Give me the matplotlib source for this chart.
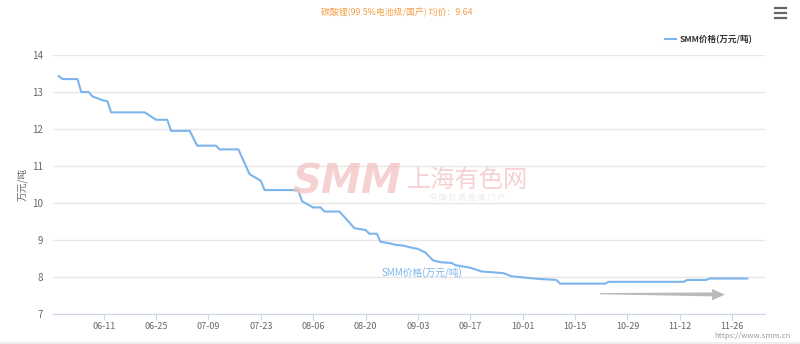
import numpy as np
import pandas as pd
import matplotlib
matplotlib.use('Agg')
import matplotlib.pyplot as plt
from matplotlib.patches import Polygon

plt.rcParams['font.family'] = ['Noto Sans CJK SC', 'DejaVu Sans']

# SMM battery-grade lithium carbonate price (万元/吨)
dates = ['05-30', '05-31', '06-04', '06-05', '06-07', '06-08', '06-11', '06-12',
         '06-13', '06-22', '06-25', '06-28', '06-29', '07-04', '07-06', '07-11',
         '07-12', '07-17', '07-20', '07-23', '07-24', '08-02', '08-03', '08-06',
         '08-08', '08-09', '08-13', '08-15', '08-17', '08-20', '08-21', '08-23',
         '08-24', '08-26', '08-28', '08-30', '09-01', '09-03', '09-05', '09-07',
         '09-09', '09-12', '09-13', '09-17', '09-20', '09-24', '09-26', '09-28',
         '10-05', '10-10', '10-11', '10-23', '10-24', '11-13', '11-14', '11-19',
         '11-20', '11-30']
prices = [13.43, 13.35, 13.35, 13.0, 13.0, 12.88, 12.77, 12.75,
          12.45, 12.45, 12.25, 12.25, 11.95, 11.95, 11.55, 11.55,
          11.45, 11.45, 10.78, 10.6, 10.35, 10.35, 10.05, 9.88,
          9.88, 9.77, 9.77, 9.55, 9.32, 9.27, 9.17, 9.17,
          8.95, 8.92, 8.87, 8.85, 8.8, 8.76, 8.66, 8.45,
          8.40, 8.38, 8.32, 8.25, 8.15, 8.12, 8.1, 8.02,
          7.95, 7.92, 7.82, 7.82, 7.87, 7.87, 7.92, 7.92,
          7.96, 7.96]
tick_labels = ['06-11', '06-25', '07-09', '07-23', '08-06', '08-20', '09-03',
               '09-17', '10-01', '10-15', '10-29', '11-12', '11-26']
year = '2018'
title = '碳酸锂(99.5%电池级/国产) 均价：9.64'
series_name = 'SMM价格(万元/吨)'

x = pd.to_datetime([f'{year}-{d}' for d in dates])
ticks = pd.to_datetime([f'{year}-{d}' for d in tick_labels])

fig = plt.figure(figsize=(8, 3.44), dpi=100)
ax = fig.add_axes([0.066, 0.0872, 0.890, 0.7528])

line_color = '#7cb5ec'
ax.plot(x, prices, color=line_color, lw=1.5, label=series_name, zorder=3)

ax.set_ylim(7, 14)
ax.set_yticks(range(7, 15))
t0 = ticks[0]
ax.set_xlim(t0 - pd.Timedelta(days=13.6), t0 + pd.Timedelta(days=176.7))
ax.set_xticks(ticks)
ax.set_xticklabels(tick_labels)

ax.grid(axis='y', color='#e6e6e6', lw=1)
ax.set_axisbelow(True)
for s in ['top', 'right', 'left']:
    ax.spines[s].set_visible(False)
ax.spines['bottom'].set_color('#ccd6eb')
ax.tick_params(axis='y', length=0, labelsize=7, colors='#666666', pad=7)
ax.tick_params(axis='x', length=4, color='#ccd6eb', labelsize=6.5,
               labelcolor='#666666', pad=1.5)
ax.set_ylabel('万元/吨', fontsize=7, color='#666666', labelpad=3)

# title, legend, menu icon
fig.text(0.496, 0.964, title, ha='center', va='center', fontsize=6.4, color='#f5a147')
ax.legend(loc='lower right', bbox_to_anchor=(0.994, 1.012), frameon=False,
          prop={'size': 6.2, 'weight': 'bold'}, handlelength=1.3, handletextpad=0.4,
          labelcolor='#333333')
for yy in [0.977, 0.962, 0.947]:
    fig.add_artist(plt.Line2D([0.969, 0.982], [yy, yy], color='#666666', lw=1.6))

# watermark
fig.text(0.434, 0.47, 'SMM', family='DejaVu Sans', fontsize=29, fontweight='bold',
         style='italic', color='#f4c2c2', alpha=0.75, ha='center', va='center', zorder=0)
fig.text(0.584, 0.478, '上海有色网', fontsize=17.5, color='#f4c2c2', alpha=0.75,
         ha='center', va='center', zorder=0)
fig.text(0.584, 0.425, '中 国 权 威 金 属 门 户', fontsize=5.8, color='#ececec',
         ha='center', va='center', zorder=0)

# point label
ax.text(0.519, 0.158, series_name, transform=ax.transAxes, fontsize=7,
        color=line_color, ha='center', va='center')

# grey arrow
arrow = Polygon([[0.750, 0.1445], [0.890, 0.1385], [0.890, 0.127],
                 [0.906, 0.1435], [0.890, 0.160], [0.890, 0.150], [0.750, 0.148]],
                closed=True, transform=fig.transFigure, color='#bababa', lw=0)
fig.add_artist(arrow)

fig.text(0.988, 0.022, 'https://www.smm.cn', fontsize=5.5, color='#999999',
         ha='right', va='center')
fig.add_artist(plt.Rectangle((0, 0), 1, 0.006, transform=fig.transFigure,
                             color='#eeeeee', lw=0))

fig.savefig('out.png', dpi=100)
